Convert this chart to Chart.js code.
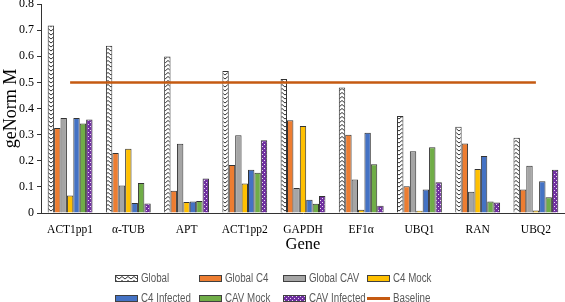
<!DOCTYPE html>
<html>
<head>
<meta charset="utf-8">
<script src="https://cdn.jsdelivr.net/npm/chart.js@4.4.0/dist/chart.umd.min.js"></script>
<style>
  html, body { margin: 0; padding: 0; background: #fff; }
  #wrap { position: relative; width: 565px; height: 302px; overflow: hidden; }
  #legend {
    position: absolute; left: 115px; top: 268px;
    display: grid; grid-template-columns: repeat(4, 84px); grid-auto-rows: 20px;
    font: 12.5px 'Liberation Sans', sans-serif; color: #595959;
  }
  .item { display: flex; align-items: center; white-space: nowrap; }
  .item span.txt { display: inline-block; transform: scaleX(0.78); transform-origin: left center; }
  .swatch { width: 23px; height: 7px; box-sizing: border-box; border: 1px solid #404040; margin-right: 3px; flex: none; }
  .swatch.line { height: 3px; border: none; }
</style>
</head>
<body>
<div id="wrap">
  <canvas id="chart" width="565" height="302"></canvas>
  <div id="legend"></div>
</div>
<script>
const genes = ['ACT1pp1', 'α-TUB', 'APT', 'ACT1pp2', 'GAPDH', 'EF1α', 'UBQ1', 'RAN', 'UBQ2']
const globalM = [0.718, 0.640, 0.599, 0.544, 0.513, 0.480, 0.371, 0.330, 0.288]
const globalC4 = [0.325, 0.230, 0.085, 0.184, 0.355, 0.300, 0.102, 0.266, 0.090]
const globalCAV = [0.364, 0.105, 0.265, 0.298, 0.096, 0.128, 0.236, 0.081, 0.181]
const c4Mock = [0.067, 0.246, 0.042, 0.113, 0.333, 0.012, 0.009, 0.168, 0.010]
const c4Infected = [0.364, 0.038, 0.044, 0.166, 0.051, 0.307, 0.090, 0.218, 0.122]
const cavMock = [0.343, 0.115, 0.046, 0.154, 0.035, 0.187, 0.252, 0.044, 0.060]
const cavInfected = [0.358, 0.036, 0.132, 0.278, 0.065, 0.028, 0.118, 0.040, 0.166]
const baseline = [0.5, 0.5, 0.5, 0.5, 0.5, 0.5, 0.5, 0.5, 0.5]

const canvas = document.getElementById('chart')
const ctx = canvas.getContext('2d')

// motifs de remplissage
function zigzagTile() {
  const c = document.createElement('canvas')
  c.width = 6
  c.height = 4
  const g = c.getContext('2d')
  g.fillStyle = '#fff'
  g.fillRect(0, 0, 6, 4)
  g.strokeStyle = '#333'
  g.lineWidth = 1
  g.beginPath()
  g.moveTo(0, 0.5)
  g.lineTo(3, 3)
  g.lineTo(6, 0.5)
  g.stroke()
  return c
}

function dotsTile() {
  const c = document.createElement('canvas')
  c.width = 4
  c.height = 4
  const g = c.getContext('2d')
  g.fillStyle = '#7030A0'
  g.fillRect(0, 0, 4, 4)
  g.fillStyle = '#e8dcf2'
  g.fillRect(0, 0, 1, 1)
  g.fillRect(2, 2, 1, 1)
  return c
}

const zig = zigzagTile()
const dots = dotsTile()

const bar = (label, data, fill, swatch) => ({
  type: 'bar',
  label: label,
  data: data,
  backgroundColor: fill,
  borderColor: '#333',
  borderWidth: 1,
  categoryPercentage: 0.77,
  barPercentage: 1,
  order: 1,
  swatch: swatch || fill,
})

const datasets = [
  bar('Global', globalM, ctx.createPattern(zig, 'repeat'), `url(${zig.toDataURL()})`),
  bar('Global C4', globalC4, '#ED7D31'),
  bar('Global CAV', globalCAV, '#A5A5A5'),
  bar('C4 Mock', c4Mock, '#FFC000'),
  bar('C4 Infected', c4Infected, '#4472C4'),
  bar('CAV Mock', cavMock, '#70AD47'),
  bar('CAV Infected', cavInfected, ctx.createPattern(dots, 'repeat'), `url(${dots.toDataURL()})`),
  {
    type: 'line',
    label: 'Baseline',
    data: baseline,
    borderColor: '#C55A11',
    borderWidth: 2.5,
    pointRadius: 0,
    fill: false,
    order: 0,
    swatch: '#C55A11',
  },
]

const serif = 'Liberation Serif, Times New Roman, serif'

new Chart(ctx, {
  data: { labels: genes, datasets: datasets },
  options: {
    responsive: false,
    animation: false,
    devicePixelRatio: 1,
    layout: { padding: { top: 4, right: 0, bottom: 47, left: 0 } },
    plugins: {
      legend: { display: false },
      tooltip: { enabled: false },
    },
    scales: {
      x: {
        grid: { display: false },
        border: { display: true, color: '#333', width: 1 },
        ticks: { color: '#000', font: { family: serif, size: 11.5 }, padding: 2 },
        title: {
          display: true,
          text: 'Gene',
          color: '#000',
          font: { family: serif, size: 16.5 },
          padding: { top: 0, bottom: 0 },
        },
        afterFit: (scale) => {
          scale.height = 42
          scale.paddingLeft = 0
          scale.paddingRight = 0
        },
      },
      y: {
        min: 0,
        max: 0.8,
        grid: { display: true, drawOnChartArea: false, drawTicks: true, tickLength: 4, color: '#333' },
        border: { display: true, color: '#333', width: 1 },
        ticks: {
          stepSize: 0.1,
          color: '#000',
          font: { family: serif, size: 12 },
          padding: 3,
          callback: (v) => (v === 0 ? '0' : v.toFixed(1)),
        },
        title: {
          display: true,
          text: 'geNorm M',
          color: '#000',
          font: { family: serif, size: 18 },
          padding: { top: 0, bottom: 0 },
        },
        afterFit: (scale) => {
          scale.width = 41
          scale.paddingTop = 0
          scale.paddingBottom = 0
        },
      },
    },
  },
})

// légende en HTML, grille de 4 colonnes
const legend = document.getElementById('legend')
datasets.forEach((ds) => {
  const item = document.createElement('div')
  item.className = 'item'
  const sw = document.createElement('span')
  sw.className = ds.type === 'line' ? 'swatch line' : 'swatch'
  sw.style.background = ds.swatch
  const txt = document.createElement('span')
  txt.className = 'txt'
  txt.textContent = ds.label
  item.appendChild(sw)
  item.appendChild(txt)
  legend.appendChild(item)
})
</script>
</body>
</html>
